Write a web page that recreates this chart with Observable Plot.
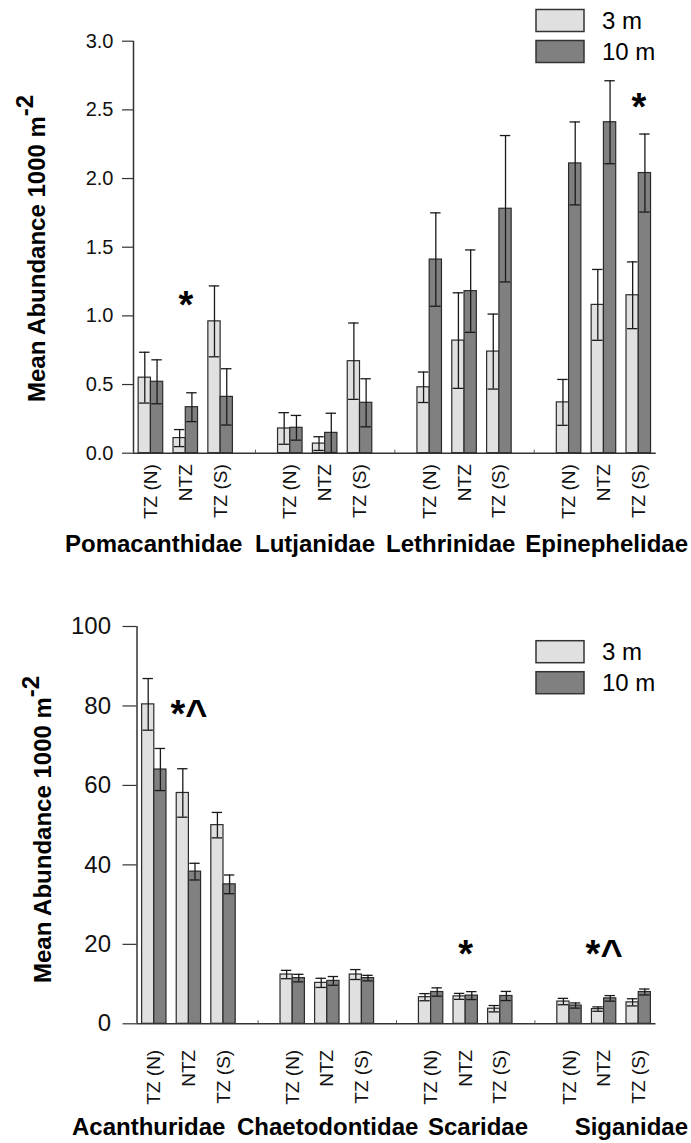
<!DOCTYPE html>
<html><head><meta charset="utf-8">
<script src="https://cdn.jsdelivr.net/npm/d3@7"></script>
<script src="https://cdn.jsdelivr.net/npm/@observablehq/plot@0.6"></script>
<style>
body{margin:0;background:#fff;font-family:"Liberation Sans",Arial,sans-serif;}
#wrap{position:relative;width:691px;height:1143px;overflow:hidden;}
#wrap > svg{position:absolute;left:0;}
</style></head><body><div id="wrap"></div>
<script>
// ---------- data ----------
const sites = ["TZ (N)", "NTZ", "TZ (S)"];
const depths = ["3 m", "10 m"];

const familiesTop = ["Pomacanthidae", "Lutjanidae", "Lethrinidae", "Epinephelidae"];
const top3mMean = [[0.55, 0.11, 0.96], [0.18, 0.07, 0.67], [0.48, 0.82, 0.74], [0.37, 1.08, 1.15]];
const top3mSE   = [[0.185, 0.062, 0.258], [0.115, 0.05, 0.278], [0.111, 0.348, 0.273], [0.167, 0.258, 0.243]];
const top10mMean = [[0.52, 0.335, 0.41], [0.185, 0.148, 0.367], [1.41, 1.18, 1.78], [2.11, 2.41, 2.04]];
const top10mSE   = [[0.16, 0.105, 0.205], [0.09, 0.143, 0.175], [0.34, 0.30, 0.533], [0.302, 0.302, 0.284]];
const topTicks = [0, 0.5, 1, 1.5, 2, 2.5, 3];
const topMarks = [
  {family: "Pomacanthidae", site: "NTZ", label: "*", level: 1.14},
  {family: "Epinephelidae", site: "TZ (S)", label: "*", level: 2.58}
];

const familiesBottom = ["Acanthuridae", "Chaetodontidae", "Scaridae", "Siganidae"];
const bot3mMean = [[80.4, 58.1, 50.0], [12.4, 10.3, 12.4], [6.7, 6.9, 3.8], [5.6, 3.7, 5.4]];
const bot3mSE   = [[6.5, 6.1, 3.2], [1.05, 1.15, 1.25], [0.9, 0.75, 0.8], [0.8, 0.55, 0.9]];
const bot10mMean = [[64.0, 38.3, 35.1], [11.5, 10.8, 11.5], [8.0, 7.1, 7.0], [4.6, 6.4, 8.0]];
const bot10mSE   = [[5.3, 2.1, 2.35], [0.95, 1.1, 0.7], [1.05, 1.0, 1.15], [0.65, 0.7, 0.75]];
const botTicks = [0, 20, 40, 60, 80, 100];
const botMarks = [
  {family: "Acanthuridae", site: "NTZ", label: "*^", level: 80.1},
  {family: "Scaridae", site: "NTZ", label: "*", level: 19.7},
  {family: "Siganidae", site: "NTZ", label: "*^", level: 19.7}
];

const yTitle = "Mean Abundance 1000 m";
const yTitleSup = "-2";

// ---------- helpers ----------
const FONT = "Liberation Sans, Arial, Helvetica, sans-serif";
function slot(fi, si) { return fi * 4 + si; }   // one empty slot between families

function buildRows(families, m3, s3, m10, s10) {
  const rows = [];
  families.forEach((f, fi) => sites.forEach((s, si) => {
    rows.push({family: f, site: s, depth: "3 m", mean: m3[fi][si], se: s3[fi][si], pos: slot(fi, si)});
    rows.push({family: f, site: s, depth: "10 m", mean: m10[fi][si], se: s10[fi][si], pos: slot(fi, si)});
  }));
  return rows;
}

function panel(cfg) {
  const rows = buildRows(cfg.families, cfg.m3, cfg.s3, cfg.m10, cfg.s10);
  const W = 0.352;          // bar width in slot units
  const C = 0.15;           // half cap width
  const x1 = d => d.depth === "3 m" ? d.pos - W : d.pos;
  const x2 = d => d.depth === "3 m" ? d.pos : d.pos + W;
  const cx = d => d.depth === "3 m" ? d.pos - W / 2 : d.pos + W / 2;
  const tickPos = [], tickLab = new Map();
  cfg.families.forEach((f, fi) => sites.forEach((s, si) => { tickPos.push(slot(fi, si)); tickLab.set(slot(fi, si), s); }));
  const gapPos = cfg.families.slice(1).map((f, i) => slot(i + 1, 0) - 1);
  const ann = cfg.marks.map(a => ({...a, pos: slot(cfg.families.indexOf(a.family), sites.indexOf(a.site))}));
  const ymax = cfg.yticks[cfg.yticks.length - 1];
  return Plot.plot({
    width: 691, height: cfg.height,
    marginLeft: cfg.ml, marginRight: cfg.mr, marginTop: cfg.mt, marginBottom: cfg.mb,
    style: {fontFamily: FONT, color: "#111", background: "transparent", overflow: "visible"},
    x: {domain: [-0.5, 14.5]},
    y: {domain: [0, ymax]},
    color: {domain: depths, range: ["#e0e0e0", "#808080"]},
    marks: [
      Plot.axisY({ticks: cfg.yticks, tickFormat: cfg.yfmt, tickSize: cfg.tickSize, tickPadding: cfg.tickPad,
                  fontSize: cfg.yfont, label: null, stroke: "#333", strokeWidth: 1.2}),
      Plot.axisX({ticks: tickPos, tickFormat: p => tickLab.get(p), tickRotate: -90, tickSize: 0,
                  tickPadding: cfg.xpad, fontSize: 19, label: null}),
      Plot.axisX({ticks: gapPos, tickFormat: () => "", tickSize: -3, label: null, stroke: "#555"}),
      Plot.rect(rows, {x1, x2, y1: 0, y2: "mean", fill: "depth", stroke: "#2a2a2a", strokeWidth: 1.2}),
      Plot.ruleX(rows, {x: cx, y1: d => d.mean - d.se, y2: d => d.mean + d.se, stroke: "#1a1a1a", strokeWidth: 1.3}),
      Plot.ruleY(rows, {y: d => d.mean + d.se, x1: d => cx(d) - C, x2: d => cx(d) + C, stroke: "#1a1a1a", strokeWidth: 1.3}),
      Plot.ruleY(rows, {y: d => d.mean - d.se, x1: d => cx(d) - C, x2: d => cx(d) + C, stroke: "#1a1a1a", strokeWidth: 1.3}),
      Plot.ruleY([0], {stroke: "#333", strokeWidth: 1.5}),
      Plot.ruleX([-0.5], {y1: 0, y2: ymax, stroke: "#333", strokeWidth: 1.5}),
      Plot.text(ann, {x: "pos", y: "level", text: "label", fontSize: 38, fontWeight: "bold", fill: "#000", dy: 9})
    ]
  });
}

const wrap = document.getElementById("wrap");

const topSvg = panel({
  families: familiesTop, m3: top3mMean, s3: top3mSE, m10: top10mMean, s10: top10mSE,
  yticks: topTicks, yfmt: d3.format(".1f"), marks: topMarks,
  height: 565, mt: 40.7, mb: 112.3, ml: 133, mr: 35.3, tickSize: 11, tickPad: 9, yfont: 20, xpad: 11
});
topSvg.style.top = "0px";
wrap.appendChild(topSvg);

const botSvg = panel({
  families: familiesBottom, m3: bot3mMean, s3: bot3mSE, m10: bot10mMean, s10: bot10mSE,
  yticks: botTicks, yfmt: d3.format("d"), marks: botMarks,
  height: 578, mt: 61, mb: 119.7, ml: 136.5, mr: 35.5, tickSize: 14, tickPad: 12, yfont: 24, xpad: 26
});
botSvg.style.top = "565px";
wrap.appendChild(botSvg);

// enlarge the rotated site labels (set on every text node that holds a site name)
[topSvg, botSvg].forEach(svg => svg.querySelectorAll("text").forEach(t => {
  if (sites.includes(t.textContent.trim())) {
    t.setAttribute("font-size", "19px");
    t.style.setProperty("font-size", "19px", "important");
  }
}));

// ---------- titles, family labels, legends ----------
const ov = d3.select(wrap).append("svg").attr("width", 691).attr("height", 1143)
  .style("position", "absolute").style("left", 0).style("top", 0)
  .attr("font-family", FONT);

function yTitleAt(x, y) {
  const t = ov.append("text").attr("transform", `translate(${x},${y}) rotate(-90)`)
    .attr("font-size", 24).attr("font-weight", "bold").attr("fill", "#000");
  t.append("tspan").text(yTitle);
  t.append("tspan").attr("dy", -12).text(yTitleSup);
}
yTitleAt(45, 402);
yTitleAt(51, 983);

function famRow(families, xs, y, anchors) {
  families.forEach((f, i) => ov.append("text").attr("x", xs[i]).attr("y", y).attr("text-anchor", anchors[i])
    .attr("font-size", 24).attr("font-weight", "bold").attr("fill", "#000").text(f));
}
famRow(familiesTop, [65, 255, 386, 688], 552, ["start", "start", "start", "end"]);
famRow(familiesBottom, [72, 237, 428, 688], 1135, ["start", "start", "start", "end"]);

function legend(y0) {
  const fills = ["#e0e0e0", "#808080"];
  depths.forEach((d, i) => {
    const y = y0 + i * 31;
    ov.append("rect").attr("x", 536).attr("y", y).attr("width", 48).attr("height", 22)
      .attr("fill", fills[i]).attr("stroke", "#333").attr("stroke-width", 1.5);
    ov.append("text").attr("x", 602).attr("y", y + 19).attr("font-size", 24).attr("fill", "#000").text(d);
  });
}
legend(9.5);
legend(640.7);
</script>
</body></html>
